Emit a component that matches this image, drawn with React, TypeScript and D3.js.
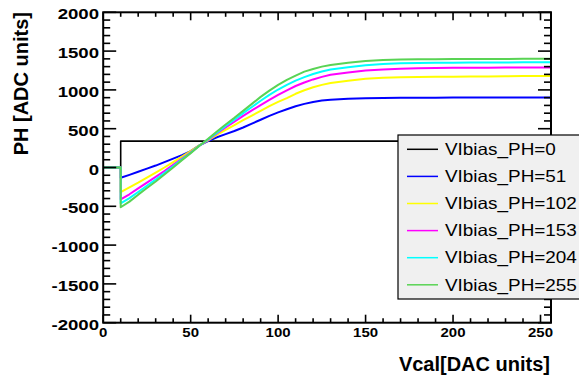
import React from "react";
import * as d3 from "d3";

const W = 579;
const H = 378;

const xs = [0, 10, 10, 15, 20, 25, 30, 35, 40, 45, 50, 55, 60, 65, 70, 75, 80, 85, 90, 95, 100, 105, 110, 115, 120, 125, 130, 140, 150, 160, 170, 180, 190, 200, 210, 220, 230, 240, 250, 256];

const vBlack = [0, 0, 340, 340, 340, 340, 340, 340, 340, 340, 340, 340, 340, 340, 340, 340, 340, 340, 340, 340, 340, 340, 340, 340, 340, 340, 340, 340, 340, 340, 340, 340, 340, 340, 340, 340, 340, 340, 340, 340];
const vBlue = [0, 0, -133, -95, -55, -15, 25, 70, 115, 160, 210, 285, 340, 390, 430, 470, 515, 565, 615, 665, 710, 750, 790, 820, 845, 862, 872, 885, 893, 897, 899, 900, 900, 901, 901, 901, 902, 902, 902, 902];
const vYellow = [0, 0, -316, -255, -195, -130, -65, 0, 70, 140, 210, 285, 350, 420, 485, 545, 610, 670, 730, 790, 845, 895, 950, 995, 1035, 1065, 1090, 1118, 1145, 1155, 1162, 1166, 1168, 1170, 1172, 1174, 1176, 1178, 1180, 1180];
const vMagenta = [0, 0, -410, -345, -270, -195, -120, -45, 35, 115, 195, 280, 360, 440, 515, 590, 665, 735, 805, 870, 935, 995, 1050, 1095, 1135, 1168, 1195, 1225, 1250, 1264, 1273, 1278, 1282, 1285, 1286, 1287, 1288, 1289, 1290, 1290];
const vCyan = [0, 0, -462, -395, -315, -235, -155, -70, 15, 105, 190, 280, 365, 450, 535, 615, 700, 780, 860, 935, 1005, 1065, 1120, 1165, 1205, 1238, 1262, 1292, 1318, 1333, 1342, 1347, 1350, 1351, 1352, 1353, 1354, 1355, 1355, 1355];
const vGreen = [0, 0, -512, -440, -350, -265, -180, -90, 0, 95, 185, 280, 370, 465, 555, 640, 730, 820, 910, 990, 1065, 1130, 1185, 1235, 1270, 1300, 1320, 1350, 1372, 1385, 1392, 1395, 1396, 1397, 1398, 1398, 1399, 1400, 1400, 1400];

const seriesNames = ["VIbias_PH=0", "VIbias_PH=51", "VIbias_PH=102", "VIbias_PH=153", "VIbias_PH=204", "VIbias_PH=255"];
const seriesValues = [vBlack, vBlue, vYellow, vMagenta, vCyan, vGreen];
const seriesColors = ["#000000", "#0000ff", "#ffff00", "#ff00ff", "#00ffff", "#59d354"];

const xTicks = [0, 50, 100, 150, 200, 250];
const yTicks = [-2000, -1500, -1000, -500, 0, 500, 1000, 1500, 2000];
const xTitle = "Vcal[DAC units]";
const yTitle = "PH [ADC units]";

const FONT = "'Liberation Sans', Arial, Helvetica, sans-serif";

const L = 103.2, R = 551, T = 12.3, B = 322.7;

export default function App() {
  const x = d3.scaleLinear().domain([0, 256]).range([L, R]);
  const y = d3.scaleLinear().domain([-2000, 2000]).range([B, T]);

  const line = d3.line<number>()
    .x((_, i) => x(xs[i]))
    .y((d) => y(d));

  const xMinor = d3.range(0, 257, 10).filter((v) => v % 50 !== 0);
  const yMinor = d3.range(-2000, 2001, 100).filter((v) => v % 500 !== 0);

  const tickW = 1.6;
  return (
    <div style={{ position: "absolute", left: 0, top: 0 }}>
      <svg width={W} height={H} style={{ display: "block", background: "#fff" }}>
        <rect x={0} y={0} width={W} height={H} fill="#fff" />
        {seriesValues.map((vals, k) => (
          <path key={k} d={line(vals) || ""} fill="none" stroke={seriesColors[k]}
            strokeWidth={k === 0 ? 1.6 : 2} strokeLinejoin="round" />
        ))}
        <g stroke="#000" strokeWidth={tickW}>
          {xTicks.map((v) => (
            <g key={"xt" + v}>
              <line x1={x(v)} x2={x(v)} y1={B} y2={B - 8} />
              <line x1={x(v)} x2={x(v)} y1={T} y2={T + 8} />
            </g>
          ))}
          {xMinor.map((v) => (
            <g key={"xm" + v}>
              <line x1={x(v)} x2={x(v)} y1={B} y2={B - 4.5} />
              <line x1={x(v)} x2={x(v)} y1={T} y2={T + 4.5} />
            </g>
          ))}
          {yTicks.map((v) => (
            <g key={"yt" + v}>
              <line x1={L} x2={L + 13} y1={y(v)} y2={y(v)} />
              <line x1={R} x2={R - 13} y1={y(v)} y2={y(v)} />
            </g>
          ))}
          {yMinor.map((v) => (
            <g key={"ym" + v}>
              <line x1={L} x2={L + 7} y1={y(v)} y2={y(v)} />
              <line x1={R} x2={R - 7} y1={y(v)} y2={y(v)} />
            </g>
          ))}
        </g>
        <rect x={L} y={T} width={R - L} height={B - T} fill="none" stroke="#000" strokeWidth={2} />
        <g fontFamily={FONT} fontWeight="bold" fill="#000">
          {xTicks.map((v) => (
            <text key={"xl" + v} transform={`translate(${x(v)},337) scale(1.2,1)`} textAnchor="middle" fontSize={12.5}>
              {v}
            </text>
          ))}
          {yTicks.map((v) => (
            <text key={"yl" + v} transform={`translate(99,${y(v) + 7}) scale(1.2,1)`} textAnchor="end" fontSize={15.5}>
              {v}
            </text>
          ))}
          <text transform={`translate(550,371)`} textAnchor="end" fontSize={20}>{xTitle}</text>
          <text transform={`translate(28,12) rotate(-90)`} textAnchor="end" fontSize={20}>{yTitle}</text>
        </g>
        <rect x={398} y={135} width={190} height={164} fill="#f0f0f0" stroke="#000" strokeWidth={1.2} />
        {seriesNames.map((name, i) => {
          const by = 155 + i * 27.1;
          return (
            <g key={"lg" + i}>
              <line x1={407} x2={438} y1={by - 5.7} y2={by - 5.7} stroke={seriesColors[i]} strokeWidth={1.5} />
              <text transform={`translate(445,${by}) scale(1.16,1)`} fontFamily={FONT} fontSize={16.3} fill="#000">
                {name}
              </text>
            </g>
          );
        })}
      </svg>
    </div>
  );
}
